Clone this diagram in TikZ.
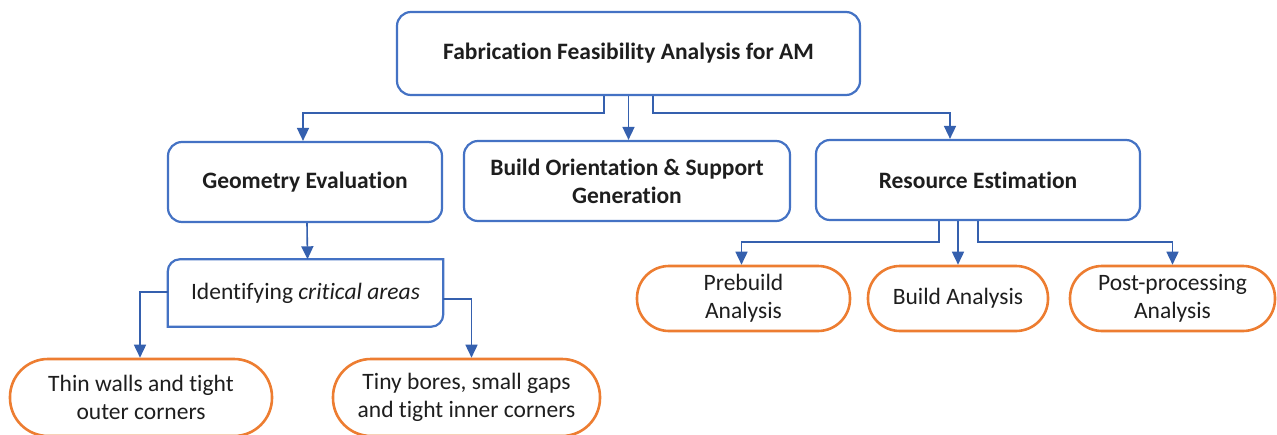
\documentclass[tikz,border=0pt]{standalone}
\usepackage{fontspec}
\setmainfont{Carlito}[RawFeature={-liga;-clig;-calt;-rlig;-dlig}]
\usetikzlibrary{arrows.meta}
\definecolor{boxblue}{HTML}{4472C4}
\definecolor{linkblue}{HTML}{3560AE}
\definecolor{orng}{HTML}{ED7D31}
\definecolor{txt}{HTML}{1E1E1E}
\tikzset{
  bluebox/.style={draw=boxblue, line width=2.2pt, rounded corners=14pt, fill=white,
    align=center, text=txt, inner sep=0pt, font=\fontsize{23.5}{28}\selectfont\bfseries},
  orangebox/.style={draw=orng, line width=2.6pt, fill=white,
    align=center, text=txt, inner sep=0pt, font=\fontsize{23.5}{28}\selectfont},
  plainbox/.style={draw=none, align=center, text=txt, inner sep=0pt,
    font=\fontsize{23.5}{28}\selectfont},
  link/.style={draw=linkblue, line width=1.6pt, -{Triangle[width=12pt,length=13pt]}},
}
\begin{document}
\begin{tikzpicture}[x=1pt,y=-1pt]
\useasboundingbox[fill=white] (0,0) rectangle (1277,434);

% top level
\node[bluebox, minimum width=463pt, minimum height=83pt] (top) at (628.5,53.5)
  {Fabrication Feasibility Analysis for AM};

% second level
\node[bluebox, minimum width=274pt, minimum height=80pt] (geo) at (305,182)
  {Geometry Evaluation};
\node[bluebox, minimum width=326pt, minimum height=80pt] (bld) at (627,181)
  {Build Orientation \& Support\\Generation};
\node[bluebox, minimum width=324pt, minimum height=80pt] (res) at (978,180)
  {Resource Estimation};

% critical areas box: rounded top-left and bottom-right corners only
\node[plainbox, minimum width=275pt, minimum height=67pt] (id) at (305.5,293)
  {Identifying \textit{critical areas}};
\draw[draw=boxblue, line width=2.2pt]
  (id.south west) -- ([yshift=-12pt]id.north west)
  arc[start angle=180, end angle=90, radius=12pt] -- (id.north east)
  -- ([yshift=12pt]id.south east)
  arc[start angle=0, end angle=-90, radius=12pt] -- cycle;

% leaves
\node[orangebox, rounded corners=38pt, minimum width=262pt, minimum height=77pt] (thin) at (141,397.5)
  {Thin walls and tight\\outer corners};
\node[orangebox, rounded corners=38pt, minimum width=267pt, minimum height=77pt] (tiny) at (466.5,397.5)
  {Tiny bores, small gaps\\and tight inner corners};
\node[orangebox, rounded corners=32pt, minimum width=213pt, minimum height=65pt] (pre) at (743.5,298.5)
  {Prebuild\\Analysis};
\node[orangebox, rounded corners=32pt, minimum width=180pt, minimum height=65pt] (ban) at (958,298.5)
  {Build Analysis};
\node[orangebox, rounded corners=32pt, minimum width=205pt, minimum height=65pt] (post) at (1172.5,298.5)
  {Post-processing\\Analysis};

% connectors
\draw[link] ([xshift=-24.5pt]top.south) -- ++(0,17) -| ([xshift=-2pt]geo.north);
\draw[link] (top.south) -- (top.south |- bld.north);
\draw[link] ([xshift=24.5pt]top.south) -- ++(0,17) -| ([xshift=-28pt]res.north);
\draw[link] ([xshift=2pt]geo.south) -- ([xshift=2pt]id.north);
\draw[link] ([yshift=1pt]id.west) -| ([xshift=-1pt]thin.north);
\draw[link] ([yshift=-6pt]id.east) -| ([xshift=5pt]tiny.north);
\draw[link] ([xshift=-39pt]res.south) -- ++(0,21) -| ([xshift=-2pt]pre.north);
\draw[link] (ban.north |- res.south) -- (ban.north);
\draw[link] (res.south) -- ++(0,21) -| (post.north);
\end{tikzpicture}
\end{document}
